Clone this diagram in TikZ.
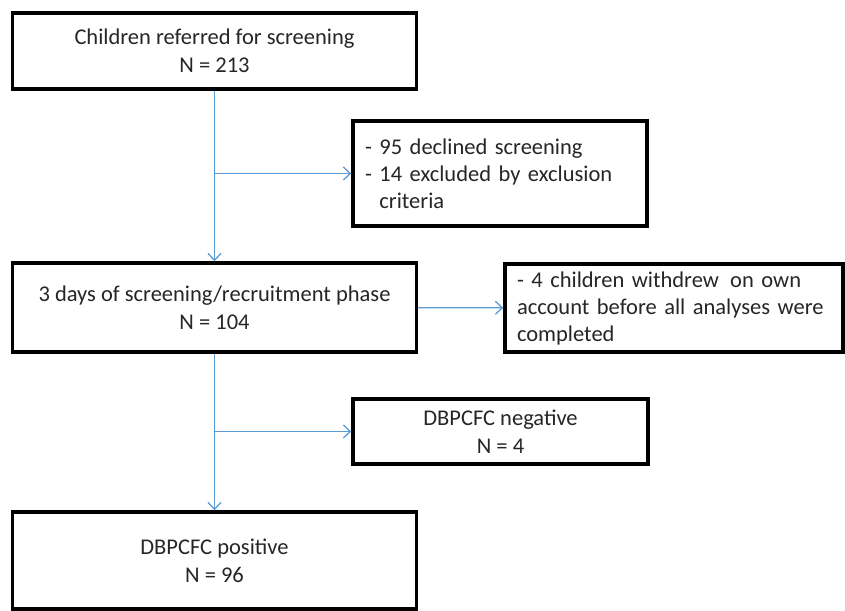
\documentclass[tikz,border=0pt]{standalone}
\usepackage{fontspec}
\setmainfont{Carlito}
\usepackage{tikz}
\usetikzlibrary{arrows.meta,positioning,calc}
\definecolor{frameBlack}{HTML}{000000}
\definecolor{textGray}{HTML}{262626}
\definecolor{flowBlue}{HTML}{5B9BD5}

\begin{document}
\begin{tikzpicture}[x=1pt,y=-1pt,>={Straight Barb[length=7pt,width=13pt]}]
  \tikzstyle{stageBox}=[draw=frameBlack,line width=3.4pt,fill=white,minimum width=404pt,align=center,text=textGray,font=\fontsize{22.5}{28}\selectfont]
  \tikzstyle{sideBox}=[draw=frameBlack,line width=3.4pt,fill=white,align=left,text=textGray,inner xsep=12pt,font=\fontsize{22.5}{27}\selectfont]
  \tikzstyle{flow}=[draw=flowBlue,line width=1.3pt]
  \useasboundingbox (0,0) rectangle (845,610);
  % main column
  \node[stageBox,minimum height=76pt] (referred) at (214.5,51) {Children referred for screening\\N = 213};
  \node[stageBox,minimum height=89pt] (recruit) at (214.5,307.5) {3 days of screening/recruitment phase\\N = 104};
  \node[stageBox,minimum height=97pt] (positive) at (214.5,560.5) {DBPCFC positive\\N = 96};
  % side boxes
  \node[sideBox,minimum width=294pt,minimum height=105pt,text width=270pt] (excluded) at (500,173.5) {- 95 declined screening\\- 14 excluded by exclusion\\\hphantom{- }criteria};
  \node[sideBox,minimum width=338pt,minimum height=88pt,text width=314pt] (withdrew) at (674,308) {- 4 children withdrew\, on own\\account before all analyses were\\completed};
  \node[stageBox,minimum width=295pt,minimum height=65pt] (negative) at (500.5,431.5) {DBPCFC negative\\N = 4};
  % connectors
  \draw[flow,->] (referred) -- (recruit);
  \draw[flow,->] (referred.south |- excluded.west) -- (excluded.west);
  \draw[flow,->] (recruit) -- (withdrew);
  \draw[flow,->] (recruit) -- (positive);
  \draw[flow,->] (recruit.south |- negative.west) -- (negative.west);
\end{tikzpicture}
\end{document}
